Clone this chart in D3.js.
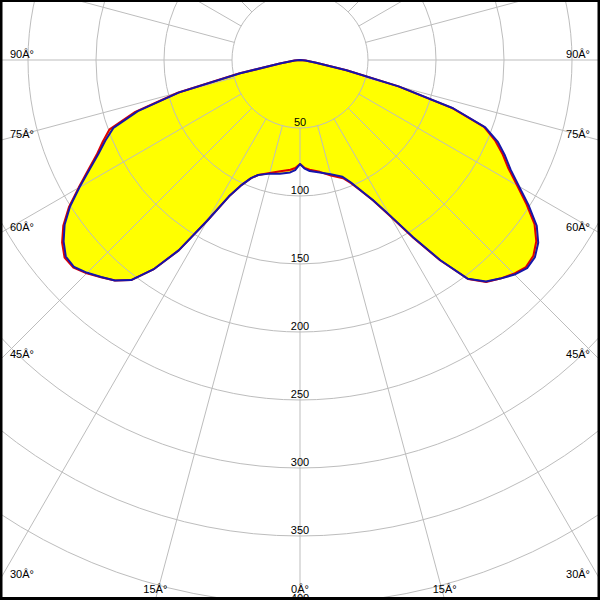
<!DOCTYPE html>
<html><head><meta charset="utf-8">
<script src="https://cdn.jsdelivr.net/npm/d3@7"></script>
<style>html,body{margin:0;padding:0;background:#fff;} svg{display:block;}</style>
</head><body>
<svg id="chart" width="600" height="600"></svg>
<script>
// gamma angles (degrees from nadir)
const gammaAngles = [0, 2.5, 5, 10, 15, 20, 22.5, 25, 27.5, 30, 32.5, 35, 37.5, 40, 42.5, 45, 47.5, 50, 52.5, 55, 57.5, 60, 62.5, 65, 67.5, 70, 72.5, 75, 77.5, 80, 85, 90, 180];
// intensities (cd) — blue curve, left half and right half
const blueLeft  = [76.5, 81, 83, 85, 86.5, 90, 94, 101.3, 113, 136.5, 166, 188, 204, 211.7, 216.4, 221.3, 225.3, 224.8, 219.1, 211.3, 200.5, 187.2, 174.6, 163.6, 155, 146, 125, 92, 45, 15, 4, 0, 0];
const blueRight = [76.5, 80, 82, 84, 87, 91.4, 97.3, 105.8, 116, 131.7, 154, 179.5, 202.8, 212.7, 218, 223.1, 226.5, 225.5, 220.8, 212.5, 199.5, 186, 174.6, 166.3, 157.5, 145, 118, 75, 35, 12, 4, 0, 0];
// red curve, left half and right half
const redLeft   = [76.5, 79.5, 81, 83, 86, 90, 94, 101.3, 113, 136.5, 166, 188, 204, 211.7, 216.6, 221.8, 226, 226, 220.5, 212.5, 201.5, 188, 175.8, 165, 157, 149, 127, 93, 46, 15, 4, 0, 0];
const redRight  = [76.5, 79.5, 81, 83.5, 88, 92.5, 98, 106, 116.5, 132.5, 155, 180, 203, 213, 218, 222.3, 225.3, 224, 219, 210.5, 197.5, 184.3, 172.8, 164.5, 155.5, 144, 117.5, 75, 35, 12, 4, 0, 0];
// radial tick values and labels
const radialTicks = [50, 100, 150, 200, 250, 300, 350, 400];
const radialLabels = ["50", "100", "150", "200", "250", "300", "350", "400"];
// angle tick values and labels
const angleTicks = [0, 15, 30, 45, 60, 75, 90];
const angleLabels = ["0Â°", "15Â°", "30Â°", "45Â°", "60Â°", "75Â°", "90Â°"];

const W = 600, H = 600, cx = 300, cy = 60;
const r = d3.scaleLinear().domain([0, 50]).range([0, 68]);
const svg = d3.select('#chart');
svg.append('rect').attr('width', W).attr('height', H).attr('fill', '#fff');
const g = svg.append('g').attr('transform', `translate(${cx},${cy})`);

function curvePoints(left, right) {
  const pts = [];
  for (let i = gammaAngles.length - 1; i >= 0; i--) pts.push({a: Math.PI + gammaAngles[i] * Math.PI / 180, v: left[i]});
  for (let i = 1; i < gammaAngles.length; i++) pts.push({a: Math.PI - gammaAngles[i] * Math.PI / 180, v: right[i]});
  return pts;
}
const line = d3.lineRadial().angle(d => d.a).radius(d => r(d.v)).curve(d3.curveLinearClosed);
const redPts = curvePoints(redLeft, redRight);
const bluePts = curvePoints(blueLeft, blueRight);

// fills
g.append('path').attr('d', line(redPts)).attr('fill', '#ffff00').attr('stroke', 'none');
g.append('path').attr('d', line(bluePts)).attr('fill', '#ffff00').attr('stroke', 'none');

// grid circles
g.selectAll('circle.grid').data(radialTicks).enter().append('circle')
  .attr('class', 'grid').attr('r', d => r(d))
  .attr('fill', 'none').attr('stroke', '#bdbdbd').attr('stroke-width', 1);
// radial lines
const spokes = d3.range(0, 360, 15);
g.selectAll('line.spoke').data(spokes).enter().append('line')
  .attr('x1', d => r(radialTicks[0]) * Math.sin(d * Math.PI / 180))
  .attr('y1', d => r(radialTicks[0]) * Math.cos(d * Math.PI / 180))
  .attr('x2', d => 1200 * Math.sin(d * Math.PI / 180))
  .attr('y2', d => 1200 * Math.cos(d * Math.PI / 180))
  .attr('stroke', '#bdbdbd').attr('stroke-width', 1);

const font = '"Liberation Sans", Arial, sans-serif';
// radial labels
g.selectAll('text.rlab').data(radialTicks).enter().append('text')
  .attr('x', 0).attr('y', d => r(d) - 2)
  .attr('text-anchor', 'middle').attr('font-family', font).attr('font-size', 11)
  .attr('fill', '#000').text((d, i) => radialLabels[i]);

// angle labels
angleTicks.forEach((a, i) => {
  const sides = a === 0 ? [1] : [-1, 1];
  sides.forEach(s => {
    const dx = s * Math.sin(a * Math.PI / 180), dy = Math.cos(a * Math.PI / 180);
    const tx = Math.abs(dx) > 1e-9 ? (s > 0 ? (W - cx) : cx) / Math.abs(dx) : Infinity;
    const ty = dy > 1e-9 ? (H - cy) / dy : Infinity;
    let x, y, anchor;
    if (tx < ty) { x = s > 0 ? W - 10 : 10; y = cy + tx * dy - 2; anchor = s > 0 ? 'end' : 'start'; }
    else { x = cx + ty * dx; y = H - 7; anchor = 'middle'; }
    svg.append('text').attr('x', x).attr('y', y).attr('text-anchor', anchor)
      .attr('font-family', font).attr('font-size', 11).attr('fill', '#000')
      .text(angleLabels[i]);
  });
});

// curve outlines
g.append('path').attr('d', line(redPts)).attr('fill', 'none').attr('stroke', '#e00000').attr('stroke-width', 2).attr('stroke-linejoin', 'round');
g.append('path').attr('d', line(bluePts)).attr('fill', 'none').attr('stroke', '#1515aa').attr('stroke-width', 2).attr('stroke-linejoin', 'round');

// frame
svg.append('rect').attr('x', 0).attr('y', 0).attr('width', W).attr('height', 2).attr('fill', '#000');
svg.append('rect').attr('x', 0).attr('y', 0).attr('width', 2.5).attr('height', H).attr('fill', '#000');
svg.append('rect').attr('x', W - 2.5).attr('y', 0).attr('width', 2.5).attr('height', H).attr('fill', '#000');
svg.append('rect').attr('x', 0).attr('y', H - 3).attr('width', W).attr('height', 3).attr('fill', '#000');
</script>
</body></html>
